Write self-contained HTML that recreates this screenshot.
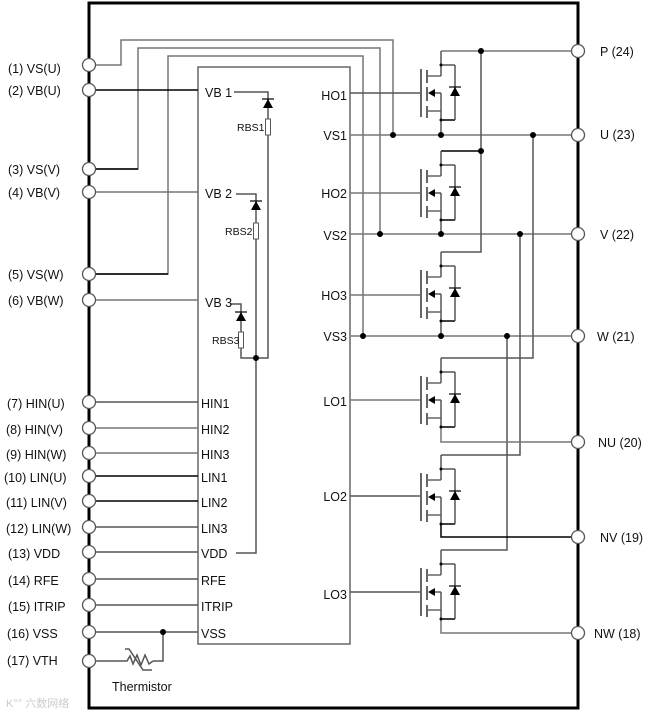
<!DOCTYPE html>
<html><head><meta charset="utf-8"><style>
html,body{margin:0;padding:0;background:#fff;}
svg{display:block;}
text{font-family:"Liberation Sans","DejaVu Sans",sans-serif;font-size:12.5px;fill:#111;}
.s{font-size:10.5px;}
</style></head><body>
<svg width="656" height="718" viewBox="0 0 656 718" xmlns="http://www.w3.org/2000/svg">
<defs>
<g id="q">
 <!-- origin: drain node at (441,0) top wire y=0, gate y=42 -->
 <line x1="441" y1="0" x2="441" y2="14" stroke="#555" stroke-width="1.5"/>
 <line x1="421" y1="18" x2="421" y2="66" stroke="#666" stroke-width="2"/>
 <line x1="427" y1="19" x2="427" y2="32" stroke="#666" stroke-width="2"/>
 <line x1="427" y1="36" x2="427" y2="50" stroke="#666" stroke-width="2"/>
 <line x1="427" y1="55" x2="427" y2="67" stroke="#666" stroke-width="2"/>
 <line x1="427" y1="25" x2="441" y2="25" stroke="#666" stroke-width="1.5"/>
 <line x1="427" y1="60" x2="441" y2="60" stroke="#666" stroke-width="1.5"/>
 <line x1="441" y1="14" x2="441" y2="25" stroke="#555" stroke-width="1.5"/>
 <line x1="441" y1="42" x2="441" y2="69" stroke="#555" stroke-width="1.5"/>
 <line x1="432" y1="42" x2="441" y2="42" stroke="#555" stroke-width="1.5"/>
 <polygon points="428,42 435,38 435,46" fill="#000"/>
 <line x1="441" y1="14" x2="455" y2="14" stroke="#555" stroke-width="1.5"/>
 <line x1="441" y1="69" x2="455" y2="69" stroke="#000" stroke-width="1.5"/>
 <line x1="455" y1="14" x2="455" y2="69" stroke="#555" stroke-width="1.5"/>
 <polygon points="455,36 450,45 460,45" fill="#000"/>
 <line x1="449" y1="36" x2="461" y2="36" stroke="#000" stroke-width="1.2"/>
 <circle cx="441" cy="14" r="1.5" fill="#000"/>
 <circle cx="441" cy="69" r="1.5" fill="#000"/>
</g>
</defs>

<!-- frame -->
<rect x="89" y="3" width="489" height="705" fill="none" stroke="#000" stroke-width="3"/>

<!-- IC box -->
<rect x="198" y="67" width="152" height="577" fill="none" stroke="#666" stroke-width="1.5"/>

<g fill="none" stroke-width="1.5">
 <!-- VS(U) -->
 <polyline points="89,65 121,65 121,40 393,40 393,135" stroke="#777"/>
 <polyline points="89,169 138,169 138,48 380,48 380,234" stroke="#777"/>
 <polyline points="89,274 168,274 168,56 363,56 363,336" stroke="#777"/>
 <polyline points="89,274 168,274" stroke="#000"/>
 <polyline points="89,169 138,169" stroke="#000"/>
 <!-- VB wires -->
 <line x1="89" y1="90" x2="198" y2="90" stroke="#000"/>
 <line x1="89" y1="192" x2="198" y2="192" stroke="#777"/>
 <line x1="89" y1="300" x2="198" y2="300" stroke="#777"/>
 <!-- bootstrap -->
 <polyline points="234,92 268,92 268,358 241,358 241,348" stroke="#555"/>
 <polyline points="236,194 256,194 256,553 236,553" stroke="#555"/>
 <polyline points="230,304 241,304 241,332" stroke="#555"/>
 <!-- HO/VS lines -->
 <line x1="350" y1="93" x2="421" y2="93" stroke="#555"/>
 <line x1="350" y1="193" x2="421" y2="193" stroke="#777"/>
 <line x1="350" y1="295" x2="421" y2="295" stroke="#777"/>
 <line x1="350" y1="400" x2="421" y2="400" stroke="#777"/>
 <line x1="350" y1="496" x2="421" y2="496" stroke="#555"/>
 <line x1="350" y1="592" x2="421" y2="592" stroke="#555"/>
 <line x1="350" y1="135" x2="578" y2="135" stroke="#777"/>
 <line x1="350" y1="234" x2="578" y2="234" stroke="#777"/>
 <line x1="350" y1="336" x2="578" y2="336" stroke="#777"/>
 <!-- P bus -->
 <polyline points="441,51 578,51" stroke="#777"/>
 <polyline points="481,51 481,252 441,252" stroke="#555"/>
 <polyline points="481,151 441,151" stroke="#000"/>
 <!-- low side tops -->
 <polyline points="533,135 533,358 441,358" stroke="#555"/>
 <polyline points="520,234 520,455 441,455" stroke="#555"/>
 <polyline points="507,336 507,550 441,550" stroke="#555"/>
 <!-- low side bottoms -->
 <polyline points="441,427 441,442 578,442" stroke="#777"/>
 <polyline points="441,523 441,537 578,537" stroke="#000"/>
 <polyline points="441,619 441,633 578,633" stroke="#777"/>
 <!-- high side bottoms -->
 <line x1="441" y1="120" x2="441" y2="135" stroke="#555"/>
 <line x1="441" y1="220" x2="441" y2="234" stroke="#555"/>
 <line x1="441" y1="321" x2="441" y2="336" stroke="#555"/>
 <!-- input lines -->
 <line x1="89" y1="402" x2="198" y2="402" stroke="#555"/>
 <line x1="89" y1="428" x2="198" y2="428" stroke="#777"/>
 <line x1="89" y1="453" x2="198" y2="453" stroke="#777"/>
 <line x1="89" y1="476" x2="198" y2="476" stroke="#000"/>
 <line x1="89" y1="501" x2="198" y2="501" stroke="#000"/>
 <line x1="89" y1="527" x2="198" y2="527" stroke="#555"/>
 <line x1="89" y1="552" x2="198" y2="552" stroke="#555"/>
 <line x1="89" y1="579" x2="198" y2="579" stroke="#555"/>
 <line x1="89" y1="605" x2="198" y2="605" stroke="#555"/>
 <line x1="89" y1="632" x2="198" y2="632" stroke="#555"/>
 <polyline points="163,632 163,661 153,661" stroke="#555"/>
 <polyline points="89,661 127,661 130,656 133,664 137,655 141,665 145,655 149,664 153,661" stroke="#555"/>
 <polyline points="125,649 129,649 143,670 152,670" stroke="#555"/>
</g>

<!-- MOSFETs -->
<use href="#q" transform="translate(0,51)"/>
<use href="#q" transform="translate(0,151)"/>
<use href="#q" transform="translate(0,252)"/>
<use href="#q" transform="translate(0,358)"/>
<use href="#q" transform="translate(0,455)"/>
<use href="#q" transform="translate(0,550)"/>

<!-- diodes & resistors -->
<g>
 <line x1="262" y1="99" x2="274" y2="99" stroke="#000" stroke-width="1.2"/>
 <polygon points="268,99 263,108 273,108" fill="#000"/>
 <rect x="265.5" y="119" width="5" height="16" fill="#fff" stroke="#555"/>
 <line x1="250" y1="201" x2="262" y2="201" stroke="#000" stroke-width="1.2"/>
 <polygon points="256,201 251,210 261,210" fill="#000"/>
 <rect x="253.5" y="223" width="5" height="16" fill="#fff" stroke="#555"/>
 <line x1="235" y1="312" x2="247" y2="312" stroke="#000" stroke-width="1.2"/>
 <polygon points="241,312 236,321 246,321" fill="#000"/>
 <rect x="238.5" y="332" width="5" height="16" fill="#fff" stroke="#555"/>
</g>

<!-- dots -->
<g fill="#000">
 <circle cx="393" cy="135" r="3"/><circle cx="380" cy="234" r="3"/><circle cx="363" cy="336" r="3"/>
 <circle cx="441" cy="135" r="3"/><circle cx="441" cy="234" r="3"/><circle cx="441" cy="336" r="3"/>
 <circle cx="481" cy="51" r="3"/><circle cx="481" cy="151" r="3"/>
 <circle cx="533" cy="135" r="3"/><circle cx="520" cy="234" r="3"/><circle cx="507" cy="336" r="3"/>
 <circle cx="256" cy="358" r="3"/><circle cx="163" cy="632" r="3"/>
</g>

<!-- pins -->
<g fill="#fff" stroke="#555" stroke-width="1.3">
 <circle cx="89" cy="65" r="6.5"/><circle cx="89" cy="90" r="6.5"/><circle cx="89" cy="169" r="6.5"/>
 <circle cx="89" cy="192" r="6.5"/><circle cx="89" cy="274" r="6.5"/><circle cx="89" cy="300" r="6.5"/>
 <circle cx="89" cy="402" r="6.5"/><circle cx="89" cy="428" r="6.5"/><circle cx="89" cy="453" r="6.5"/>
 <circle cx="89" cy="476" r="6.5"/><circle cx="89" cy="501" r="6.5"/><circle cx="89" cy="527" r="6.5"/>
 <circle cx="89" cy="552" r="6.5"/><circle cx="89" cy="579" r="6.5"/><circle cx="89" cy="605" r="6.5"/>
 <circle cx="89" cy="632" r="6.5"/><circle cx="89" cy="661" r="6.5"/>
 <circle cx="578" cy="51" r="6.5"/><circle cx="578" cy="135" r="6.5"/><circle cx="578" cy="234" r="6.5"/>
 <circle cx="578" cy="336" r="6.5"/><circle cx="578" cy="442" r="6.5"/><circle cx="578" cy="537" r="6.5"/>
 <circle cx="578" cy="633" r="6.5"/>
</g>

<!-- left labels -->
<g>
 <text x="8" y="73">(1) VS(U)</text>
 <text x="8" y="95">(2) VB(U)</text>
 <text x="8" y="174">(3) VS(V)</text>
 <text x="8" y="197">(4) VB(V)</text>
 <text x="8" y="279">(5) VS(W)</text>
 <text x="8" y="305">(6) VB(W)</text>
 <text x="7" y="408">(7) HIN(U)</text>
 <text x="6" y="434">(8) HIN(V)</text>
 <text x="6" y="459">(9) HIN(W)</text>
 <text x="4" y="482">(10) LIN(U)</text>
 <text x="6" y="507">(11) LIN(V)</text>
 <text x="6" y="533">(12) LIN(W)</text>
 <text x="8" y="558">(13) VDD</text>
 <text x="8" y="585">(14) RFE</text>
 <text x="8" y="611">(15) ITRIP</text>
 <text x="7" y="638">(16) VSS</text>
 <text x="7" y="665">(17) VTH</text>
 <text x="112" y="691">Thermistor</text>
</g>
<!-- IC labels -->
<g>
 <text x="205" y="97">VB 1</text>
 <text x="205" y="198">VB 2</text>
 <text x="205" y="307">VB 3</text>
 <text class="s" x="237" y="131">RBS1</text>
 <text class="s" x="225" y="235">RBS2</text>
 <text class="s" x="212" y="344">RBS3</text>
 <text x="201" y="408">HIN1</text>
 <text x="201" y="434">HIN2</text>
 <text x="201" y="459">HIN3</text>
 <text x="201" y="482">LIN1</text>
 <text x="201" y="507">LIN2</text>
 <text x="201" y="533">LIN3</text>
 <text x="201" y="558">VDD</text>
 <text x="201" y="585">RFE</text>
 <text x="201" y="611">ITRIP</text>
 <text x="201" y="638">VSS</text>
 <g text-anchor="end">
 <text x="347" y="100">HO1</text>
 <text x="347" y="140">VS1</text>
 <text x="347" y="198">HO2</text>
 <text x="347" y="240">VS2</text>
 <text x="347" y="300">HO3</text>
 <text x="347" y="341">VS3</text>
 <text x="347" y="406">LO1</text>
 <text x="347" y="501">LO2</text>
 <text x="347" y="599">LO3</text>
 </g>
</g>
<!-- right labels -->
<g>
 <text x="600" y="56">P (24)</text>
 <text x="600" y="139">U (23)</text>
 <text x="600" y="239">V (22)</text>
 <text x="597" y="341">W (21)</text>
 <text x="598" y="447">NU (20)</text>
 <text x="600" y="542">NV (19)</text>
 <text x="594" y="638">NW (18)</text>
</g>
<text x="6" y="707" style="font-size:11px;fill:#ccc">K°° 六数网络</text>
</svg>
</body></html>
